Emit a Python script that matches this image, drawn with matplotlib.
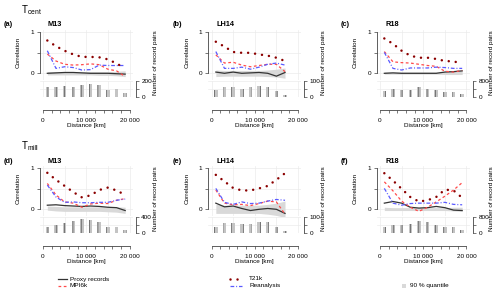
import matplotlib
matplotlib.use('Agg')
import matplotlib.pyplot as plt
from matplotlib.lines import Line2D
from matplotlib.patches import Rectangle

plt.rcParams['font.family'] = ['Liberation Sans', 'DejaVu Sans']
plt.rcParams['hatch.linewidth'] = 0.5

# ---------------- data ----------------
dist10 = [1000, 3000, 5000, 7000, 9000, 11000, 13000, 15000, 17000, 19000]
dist9 = dist10[:9]

row_titles = ['cent', 'mill']
panel_labels = ['(a)', '(b)', '(c)', '(d)', '(e)', '(f)']
panel_names = ['M13', 'LH14', 'R18', 'M13', 'LH14', 'R18']
count_tops = [200, 100, 800, 400, 100, 800]

# (a) M13 Tcent
t21k_a = [0.80, 0.66, 0.55, 0.46, 0.40, 0.40, 0.39, 0.34, 0.24, 0.12]
mpi6k_a = [0.47, 0.30, 0.22, 0.20, 0.21, 0.23, 0.21, 0.10, 0.06, -0.08]
rean_a = [0.55, 0.12, 0.16, 0.14, 0.08, 0.09, 0.20, 0.19, 0.19, 0.19]
proxy_a = [0.00, 0.01, 0.02, 0.02, 0.01, 0.00, 0.00, 0.00, -0.01, -0.02]
q_lo_a = [-0.04, -0.04, -0.04, -0.04, -0.04, -0.04, -0.05, -0.05, -0.06, -0.08]
q_hi_a = [0.04, 0.04, 0.04, 0.04, 0.04, 0.04, 0.04, 0.04, 0.05, 0.06]
n_a = [119, 119, 136, 119, 145, 162, 149, 85, 106, 51]

# (b) LH14 Tcent
t21k_b = [0.77, 0.65, 0.52, 0.50, 0.50, 0.46, 0.43, 0.38, 0.30]
mpi6k_b = [0.45, 0.25, 0.27, 0.20, 0.16, 0.19, 0.22, 0.22, 0.04]
rean_b = [0.53, 0.12, 0.12, 0.15, 0.10, 0.15, 0.22, 0.25, 0.20]
proxy_b = [0.03, 0.00, 0.03, 0.00, 0.01, 0.02, 0.00, -0.07, 0.02]
q_lo_b = [-0.08, -0.07, -0.07, -0.07, -0.07, -0.07, -0.08, -0.09, -0.12]
q_hi_b = [0.08, 0.07, 0.07, 0.07, 0.07, 0.07, 0.08, 0.10, 0.13]
n_b = [43, 60, 60, 53, 60, 68, 64, 38, 15]

# (c) R18 Tcent
t21k_c = [0.85, 0.72, 0.55, 0.43, 0.38, 0.38, 0.35, 0.30, 0.29, 0.24]
mpi6k_c = [0.53, 0.28, 0.26, 0.25, 0.22, 0.19, 0.17, 0.05, 0.03, 0.07]
rean_c = [0.51, 0.12, 0.08, 0.13, 0.13, 0.13, 0.15, 0.14, 0.12, 0.12]
proxy_c = [0.00, 0.01, 0.00, 0.00, 0.00, 0.00, 0.00, 0.03, 0.04, 0.06]
q_lo_c = [-0.02, -0.02, -0.02, -0.02, -0.02, -0.02, -0.02, -0.03, -0.03, -0.03]
q_hi_c = [0.03, 0.03, 0.03, 0.03, 0.03, 0.03, 0.03, 0.05, 0.06, 0.07]
n_c = [306, 425, 374, 374, 476, 425, 374, 255, 255, 170]

# (d) M13 Tmill
t21k_d = [0.89, 0.72, 0.57, 0.42, 0.29, 0.34, 0.47, 0.53, 0.46, 0.35]
mpi6k_d = [0.63, 0.35, 0.18, 0.15, 0.05, 0.13, 0.15, 0.14, 0.22, 0.26]
rean_d = [0.59, 0.30, 0.17, 0.18, 0.16, 0.16, 0.17, 0.17, 0.22, 0.25]
proxy_d = [0.10, 0.11, 0.09, 0.08, 0.07, 0.08, 0.07, 0.05, 0.04, -0.03]
q_lo_d = [-0.02, -0.04, -0.05, -0.05, -0.05, -0.05, -0.05, -0.06, -0.07, -0.10]
q_hi_d = [0.08, 0.07, 0.06, 0.06, 0.06, 0.06, 0.06, 0.06, 0.06, 0.05]
n_d = [138, 192, 246, 308, 362, 323, 285, 138, 154, 77]

# (e) LH14 Tmill
t21k_e = [0.84, 0.68, 0.52, 0.46, 0.46, 0.51, 0.57, 0.72, 0.88]
mpi6k_e = [0.47, 0.15, 0.11, 0.12, 0.09, 0.14, 0.20, 0.18, -0.12]
rean_e = [0.51, 0.17, 0.12, 0.18, 0.14, 0.15, 0.20, 0.24, 0.22]
proxy_e = [0.15, 0.06, 0.08, 0.02, -0.03, 0.00, 0.02, 0.00, -0.10]
q_lo_e = [-0.10, -0.10, -0.10, -0.10, -0.10, -0.10, -0.12, -0.15, -0.20]
q_hi_e = [0.12, 0.10, 0.10, 0.10, 0.10, 0.10, 0.12, 0.15, 0.20]
n_e = [38, 62, 62, 58, 58, 69, 67, 38, 15]

# (f) R18 Tmill
t21k_f = [0.88, 0.70, 0.50, 0.30, 0.19, 0.22, 0.30, 0.48, 0.46, 0.28]
mpi6k_f = [0.67, 0.45, 0.20, 0.05, -0.05, 0.05, 0.18, 0.32, 0.47, 0.65]
rean_f = [0.51, 0.15, 0.10, 0.14, 0.15, 0.15, 0.15, 0.17, 0.12, 0.11]
proxy_f = [0.15, 0.19, 0.15, 0.05, 0.03, 0.04, 0.07, 0.04, -0.02, -0.03]
q_lo_f = [-0.03, -0.03, -0.03, -0.03, -0.03, -0.03, -0.03, -0.03, -0.04, -0.05]
q_hi_f = [0.05, 0.04, 0.04, 0.04, 0.04, 0.04, 0.04, 0.04, 0.05, 0.05]
n_f = [300, 417, 417, 467, 617, 533, 417, 283, 283, 167]

panels = [
    (dist10, t21k_a, mpi6k_a, rean_a, proxy_a, q_lo_a, q_hi_a, n_a),
    (dist9, t21k_b, mpi6k_b, rean_b, proxy_b, q_lo_b, q_hi_b, n_b),
    (dist10, t21k_c, mpi6k_c, rean_c, proxy_c, q_lo_c, q_hi_c, n_c),
    (dist10, t21k_d, mpi6k_d, rean_d, proxy_d, q_lo_d, q_hi_d, n_d),
    (dist9, t21k_e, mpi6k_e, rean_e, proxy_e, q_lo_e, q_hi_e, n_e),
    (dist10, t21k_f, mpi6k_f, rean_f, proxy_f, q_lo_f, q_hi_f, n_f),
]

# ---------------- styles ----------------
C_T21K = '#8b0000'
C_MPI = '#ff4a4a'
C_REAN = '#5a5aff'
C_PROXY = '#333333'
C_Q = '#d9d9d9'
C_AX = '#444444'
C_GRID = '#ebebeb'
FS = 4.6

LS_T21K = dict(color=C_T21K, lw=1.8, linestyle=(0, (0.01, 2.8)), dash_capstyle='round')
LS_MPI = dict(color=C_MPI, lw=0.9, linestyle=(0, (2.2, 2.0)))
LS_REAN = dict(color=C_REAN, lw=0.9, linestyle=(0, (3.0, 1.5, 0.8, 1.5)))
LS_PROXY = dict(color=C_PROXY, lw=0.9, linestyle='-')

W, H = 500, 294
fig = plt.figure(figsize=(5, 2.94), dpi=100)


def ax_px(left, top, right, bottom):
    return fig.add_axes([left / W, 1 - bottom / H, (right - left) / W, (bottom - top) / H])


def ftext(x, y, s, **kw):
    fig.text(x / W, 1 - y / H, s, **kw)


KPX = 86.5 / 20000.0
XL = (-800, 20800)
YL = (-0.16, 1.05)
PPU = 41.0


def fmt_km(v):
    return '{:,}'.format(int(v)).replace(',', ' ')


for k, (d, t21, mpi, rean, prox, qlo, qhi, cnt) in enumerate(panels):
    i, j = k % 3, k // 3
    x0 = 43 + 168.5 * i
    yo = 136 * j
    y0 = 73.3 + yo
    left = x0 + XL[0] * KPX
    right = x0 + XL[1] * KPX

    # ---- main correlation axes ----
    ax = ax_px(left, y0 - YL[1] * PPU, right, y0 - YL[0] * PPU)
    ax.set_xlim(*XL)
    ax.set_ylim(*YL)
    ax.set_xticks(range(0, 20001, 5000))
    ax.set_yticks([0, 0.5, 1])
    ax.set_yticklabels(['0', '', '1'])
    ax.grid(True, color=C_GRID, lw=0.5)
    ax.set_axisbelow(True)
    for s in ['top', 'right', 'bottom']:
        ax.spines[s].set_visible(False)
    ax.spines['left'].set_bounds(0, 1)
    ax.spines['left'].set_color(C_AX)
    ax.spines['left'].set_linewidth(0.6)
    ax.tick_params(axis='x', length=0, labelbottom=False)
    ax.tick_params(axis='y', length=2.5, width=0.5, color=C_AX, labelsize=FS, pad=1.5)

    ax.fill_between(d, qlo, qhi, color=C_Q, lw=0, zorder=2)
    ax.plot(d, prox, zorder=3, **LS_PROXY)
    ax.plot(d, mpi, zorder=4, **LS_MPI)
    ax.plot(d, rean, zorder=4, **LS_REAN)
    ax.plot(d, t21, zorder=5, **LS_T21K)

    # ---- bar axes ----
    T = count_tops[k]
    axb = ax_px(left, 81 + yo, right, 97 + yo)
    axb.set_xlim(*XL)
    axb.set_ylim(0, T)
    axb.bar(d, cnt, width=800, facecolor='#c4c4c4', edgecolor='#555555', hatch='||||',
            lw=0, zorder=3)
    axb.axhline(0, color='#aaaaaa', lw=0.5, zorder=2)
    for yy in [T / 2, T]:
        axb.axhline(yy, color=C_GRID, lw=0.5, zorder=1)
    for xx in range(0, 20001, 5000):
        axb.axvline(xx, color=C_GRID, lw=0.5, zorder=1)
    axb.spines['top'].set_visible(False)
    axb.spines['left'].set_visible(False)
    axb.spines['right'].set_position(('outward', 2))
    axb.spines['right'].set_bounds(0, T)
    axb.spines['bottom'].set_position(('outward', 9))
    axb.spines['bottom'].set_bounds(0, 20000)
    for s in ['right', 'bottom']:
        axb.spines[s].set_color(C_AX)
        axb.spines[s].set_linewidth(0.6)
    axb.yaxis.tick_right()
    axb.set_yticks([0, T / 2, T])
    axb.set_yticklabels(['0', '', str(T)])
    xt = list(range(0, 20001, 2000))
    axb.set_xticks(xt)
    axb.set_xticklabels([fmt_km(v) if v % 10000 == 0 else '' for v in xt])
    axb.tick_params(axis='both', length=2.5, width=0.5, color=C_AX, labelsize=FS, pad=1.5)
    axb.tick_params(axis='x', pad=3.5)

    # ---- texts ----
    ftext(x0 + 43, 126 + yo, 'Distance [km]', fontsize=FS, ha='center', va='center')
    ftext(left - 21, 52 + yo, 'Correlation', fontsize=FS, rotation=90, ha='center', va='center')
    ftext(x0 + 112, 62.5 + yo, 'Number of record pairs', fontsize=FS, rotation=90,
          ha='center', va='center')
    ftext(x0 - 39, 25 + yo, panel_labels[k], fontsize=5.3, fontweight='bold', ha='left', va='center')
    ftext(x0 + 5, 25 + yo, panel_names[k], fontsize=5.3, fontweight='bold', ha='left', va='center')

for j, rt in enumerate(row_titles):
    ftext(21, 10 + 136 * j, r'$\mathregular{T_{%s}}$' % rt, fontsize=7, ha='left', va='center')

# ---------------- legend ----------------
def leg_line(x1, x2, y, style):
    fig.add_artist(Line2D([x1 / W, x2 / W], [1 - y / H, 1 - y / H], transform=fig.transFigure,
                          **style))

leg_line(58, 67, 279, LS_PROXY)
ftext(70, 279, 'Proxy records', fontsize=FS, va='center')
leg_line(58, 67, 285.5, LS_MPI)
ftext(70, 285.5, 'MPI6k', fontsize=FS, va='center')
leg_line(230, 242, 279, LS_T21K)
ftext(249, 279, 'T21k', fontsize=FS, va='center')
leg_line(230, 242, 285.5, LS_REAN)
ftext(249, 285.5, 'Reanalysis', fontsize=FS, va='center')
fig.add_artist(Rectangle((401.5 / W, 1 - 287.5 / H), 4 / W, 4 / H, transform=fig.transFigure,
                         facecolor=C_Q, edgecolor='none'))
ftext(410, 285.5, '90 % quantile', fontsize=FS, va='center')

fig.savefig('out.png', dpi=100)
